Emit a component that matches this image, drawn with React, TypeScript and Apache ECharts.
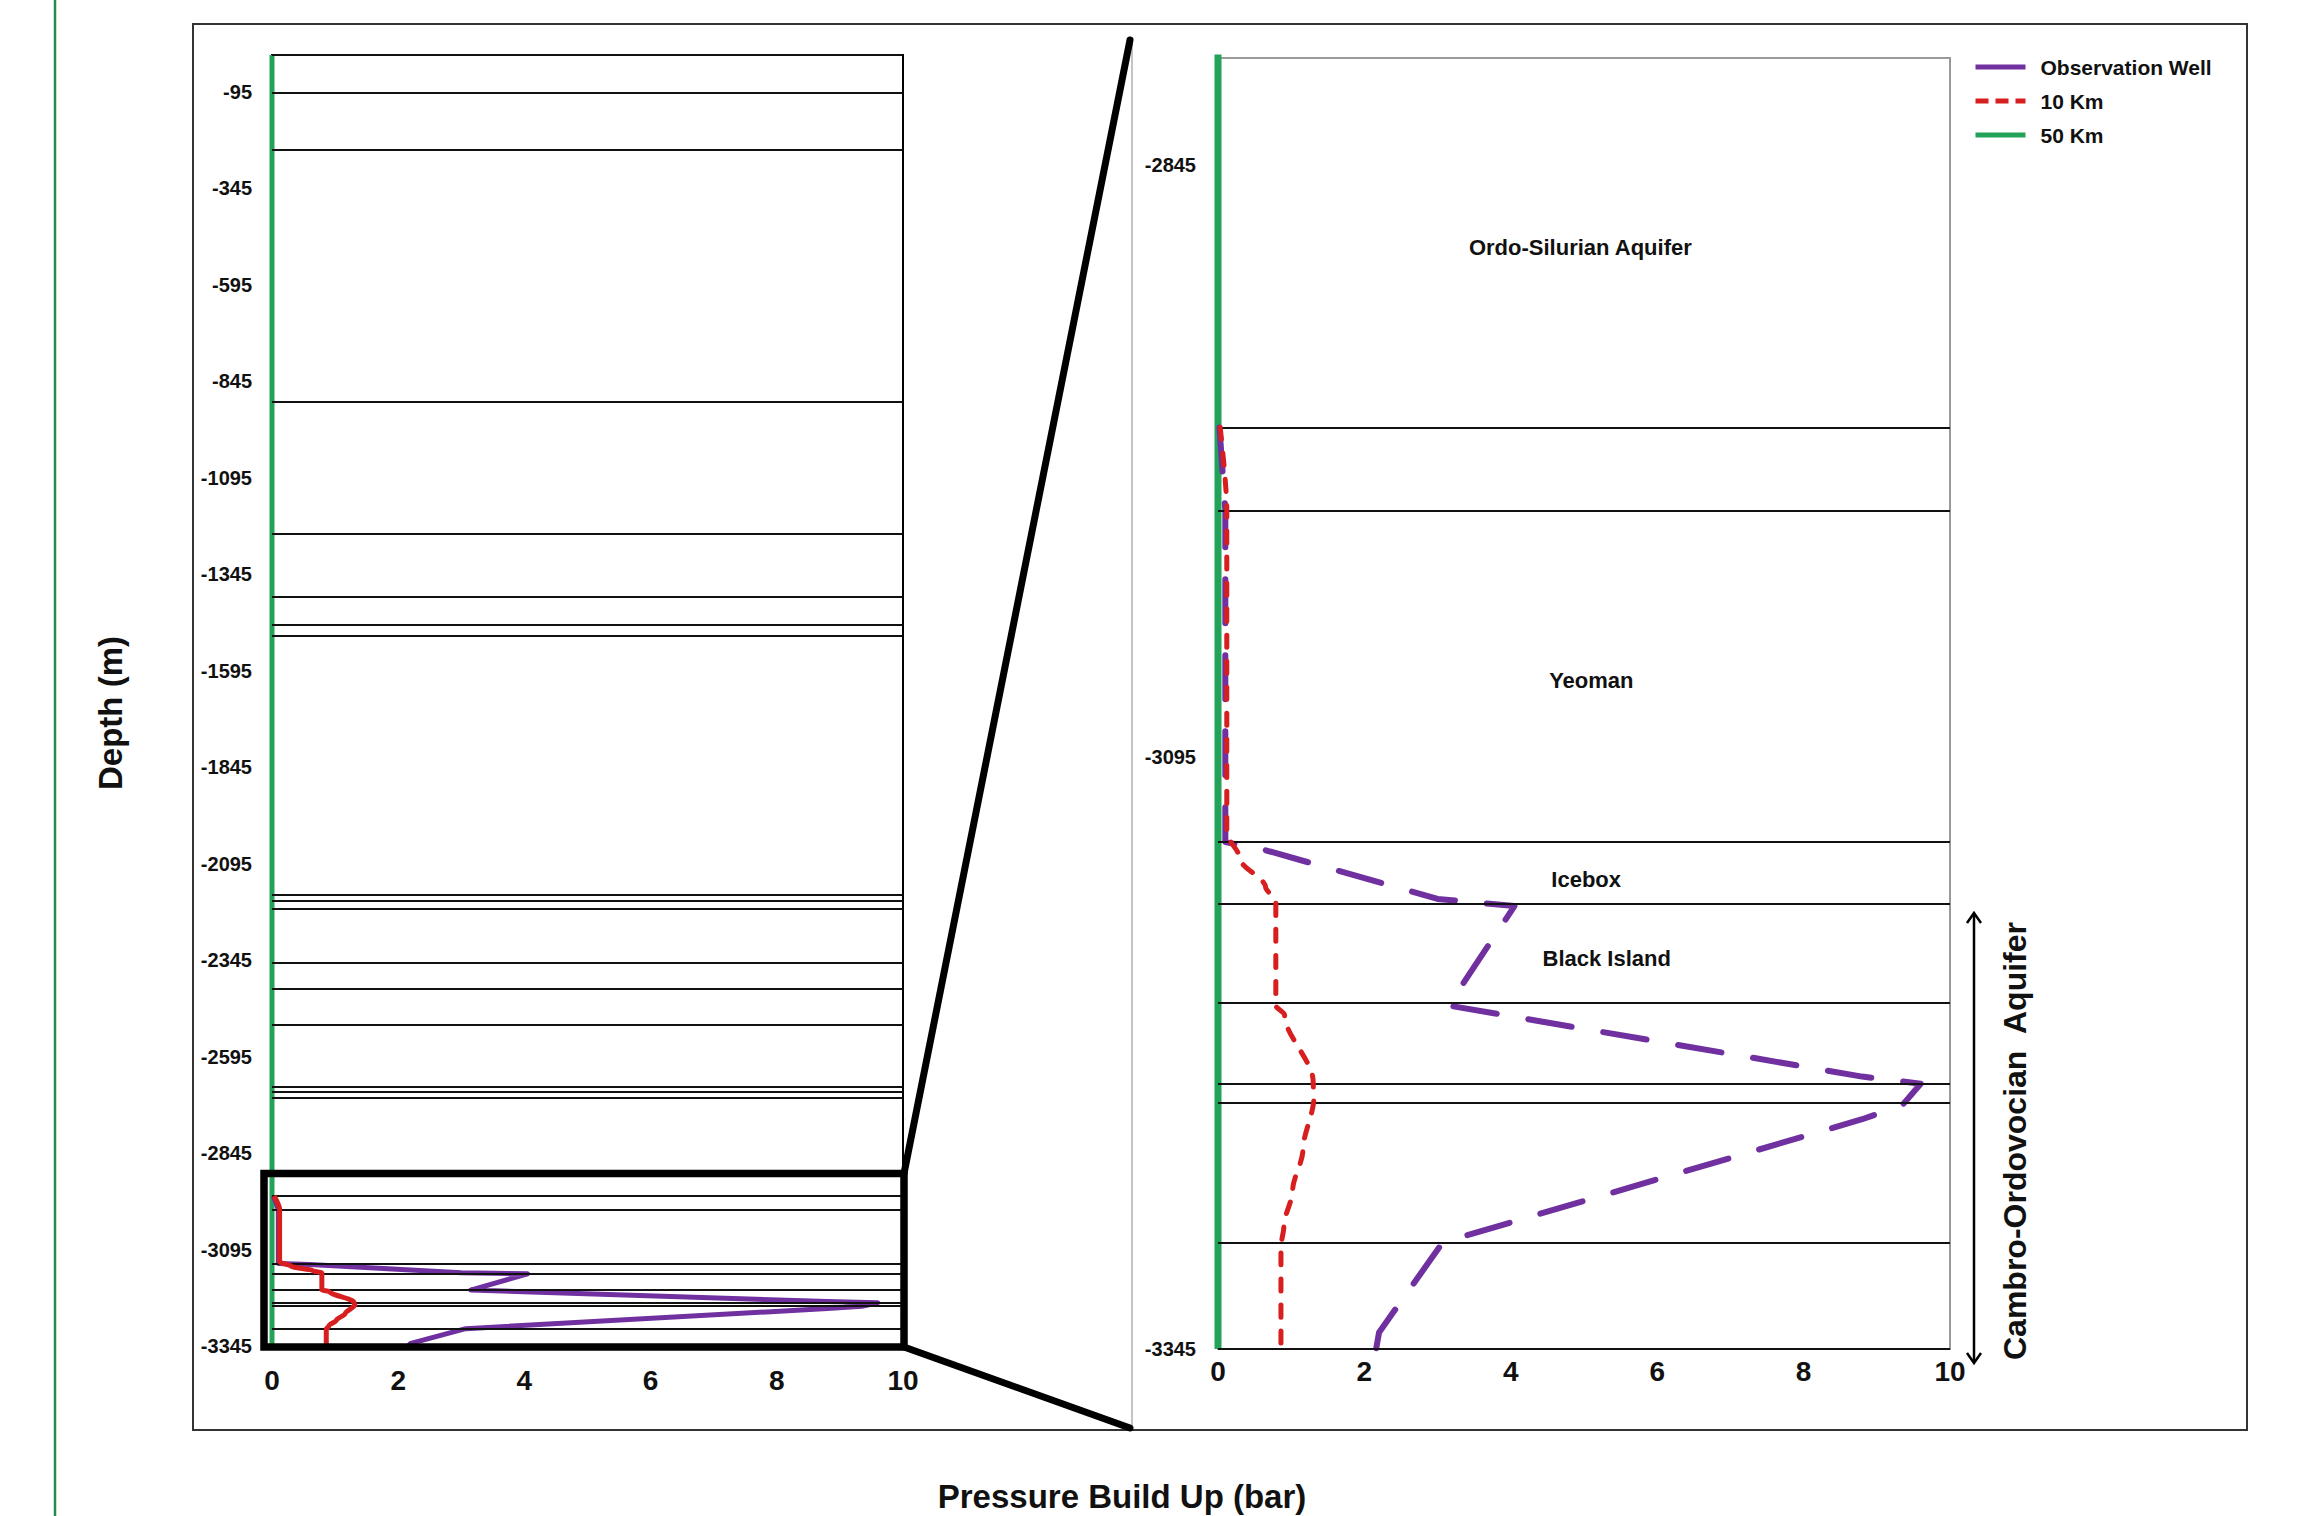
import React, { useEffect, useRef } from "react";
import * as echarts from "echarts";

// Formation boundary depths (m)
const boundaryDepths = [
  0, -97, -245, -898, -1240, -1403, -1476, -1505, -2176, -2191, -2213, -2353,
  -2419, -2513, -2672, -2685, -2701, -2956, -2991, -3131, -3157, -3199, -3233,
  -3241, -3300, -3345,
];

// Observation Well profile
const obsWellDepth = [-2956, -2991, -3131, -3134, -3155, -3158, -3200, -3230, -3233, -3242, -3248, -3300, -3338, -3345];
const obsWellBar = [0.02, 0.1, 0.1, 0.6, 3.0, 4.05, 3.15, 8.8, 9.6, 9.35, 8.8, 3.07, 2.2, 2.16];

// 10 Km profile
const km10Depth = [-2956, -2991, -3127, -3138, -3150, -3156, -3200, -3204, -3232, -3239, -3261, -3278, -3293, -3302, -3345];
const km10Bar = [0.03, 0.12, 0.12, 0.3, 0.65, 0.79, 0.79, 0.91, 1.3, 1.31, 1.16, 1.02, 0.9, 0.86, 0.86];

// 50 Km profile
const km50Depth = [0, -3345];
const km50Bar = [0, 0];

// Formation labels (zoomed panel)
const formationNames = ["Ordo-Silurian Aquifer", "Yeoman", "Icebox", "Black Island"];
const formationBar = [4.95, 5.1, 5.03, 5.31];
const formationDepth = [-2880, -3063, -3147, -3180];

const FONT = "'Liberation Sans', Arial, sans-serif";
const PURPLE = "#7030a0";
const RED = "#d81f1f";
const GREEN = "#23a35a";

const pairs = (xs: number[], ys: number[]) => xs.map((x, i) => [x, ys[i]]);

export default function App() {
  const ref = useRef<HTMLDivElement>(null);

  useEffect(() => {
    const el = ref.current!;
    const chart = echarts.init(el, null, { renderer: "svg" });

    const rightBoundaries = boundaryDepths.filter((d) => d <= -2800 && d >= -3345);

    const labelFmt = (v: number) => (v === 0 || v === -2800 ? "" : String(v));

    const xAxisBase = {
      type: "value",
      min: 0,
      max: 10,
      interval: 2,
      axisLine: { show: false },
      axisTick: { show: false },
      splitLine: { show: false },
    };
    const yAxisBase = {
      type: "value",
      interval: 250,
      axisLine: { show: false },
      axisTick: { show: false },
      splitLine: { show: false },
    };

    const hiddenSymbol = { color: "rgba(0,0,0,0)", borderColor: "rgba(0,0,0,0)", borderWidth: 0, opacity: 0 };

    const option: any = {
      animation: false,
      backgroundColor: "#ffffff",
      grid: [
        { left: 272, right: 1405, top: 55, bottom: 170, show: true, borderColor: "#000", borderWidth: 2, backgroundColor: "transparent" },
        { left: 1218, right: 358, top: 58, bottom: 167, show: true, borderColor: "#9a9a9a", borderWidth: 2, backgroundColor: "transparent" },
      ],
      xAxis: [
        { ...xAxisBase, gridIndex: 0, axisLabel: { fontSize: 28, fontWeight: "bold", color: "#111", margin: 20, fontFamily: FONT } },
        { ...xAxisBase, gridIndex: 1, axisLabel: { fontSize: 28, fontWeight: "bold", color: "#111", margin: 8, fontFamily: FONT } },
      ],
      yAxis: [
        { ...yAxisBase, gridIndex: 0, min: -3345, max: 0, axisLabel: { formatter: labelFmt, fontSize: 20, fontWeight: "bold", color: "#111", margin: 20, fontFamily: FONT } },
        { ...yAxisBase, gridIndex: 1, min: -3345, max: -2800, axisLabel: { formatter: labelFmt, fontSize: 20, fontWeight: "bold", color: "#111", margin: 22, fontFamily: FONT } },
      ],
      legend: {
        orient: "vertical",
        left: 1973,
        top: 56,
        padding: 0,
        itemWidth: 50,
        itemHeight: 14,
        itemGap: 12,
        textStyle: { fontSize: 21, fontWeight: "bold", color: "#111", fontFamily: FONT, lineHeight: 22, padding: [0, 0, 0, 10] },
        data: [
          { name: "Observation Well", itemStyle: hiddenSymbol, lineStyle: { color: PURPLE, width: 5, type: "solid" } },
          { name: "10 Km", itemStyle: hiddenSymbol, lineStyle: { color: RED, width: 5, type: [13, 7] } },
          { name: "50 Km", itemStyle: hiddenSymbol, lineStyle: { color: GREEN, width: 5, type: "solid" } },
        ],
      },
      series: [
        {
          name: "boundaries-left",
          type: "line",
          xAxisIndex: 0,
          yAxisIndex: 0,
          data: [],
          z: 1,
          silent: true,
          markLine: {
            silent: true,
            symbol: "none",
            label: { show: false },
            lineStyle: { color: "#111", width: 2, type: "solid" },
            data: boundaryDepths.map((d) => ({ yAxis: d })),
          },
        },
        {
          name: "boundaries-right",
          type: "line",
          xAxisIndex: 1,
          yAxisIndex: 1,
          data: [],
          z: 1,
          silent: true,
          markLine: {
            silent: true,
            symbol: "none",
            label: { show: false },
            lineStyle: { color: "#111", width: 2, type: "solid" },
            data: rightBoundaries.map((d) => ({ yAxis: d })),
          },
        },
        // left (overview) panel
        {
          name: "50 Km", type: "line", xAxisIndex: 0, yAxisIndex: 0, symbol: "none", z: 3,
          data: pairs(km50Bar, km50Depth),
          lineStyle: { color: GREEN, width: 5 }, itemStyle: { color: GREEN },
        },
        {
          name: "Observation Well", type: "line", xAxisIndex: 0, yAxisIndex: 0, symbol: "none", z: 4,
          data: pairs(obsWellBar, obsWellDepth),
          lineStyle: { color: PURPLE, width: 5, join: "round" }, itemStyle: { color: PURPLE },
        },
        {
          name: "10 Km", type: "line", xAxisIndex: 0, yAxisIndex: 0, symbol: "none", z: 5,
          smooth: 0.3, smoothMonotone: "y",
          data: pairs(km10Bar, km10Depth),
          lineStyle: { color: RED, width: 5 }, itemStyle: { color: RED },
        },
        // right (zoomed) panel
        {
          name: "50 Km", type: "line", xAxisIndex: 1, yAxisIndex: 1, symbol: "none", z: 3,
          data: pairs(km50Bar, km50Depth),
          lineStyle: { color: GREEN, width: 7 }, itemStyle: { color: GREEN },
        },
        {
          name: "Observation Well", type: "line", xAxisIndex: 1, yAxisIndex: 1, symbol: "none", z: 4,
          data: pairs(obsWellBar, obsWellDepth),
          lineStyle: { color: PURPLE, width: 6, type: [44, 32], cap: "round", join: "round" }, itemStyle: { color: PURPLE },
        },
        {
          name: "10 Km", type: "line", xAxisIndex: 1, yAxisIndex: 1, symbol: "none", z: 5,
          smooth: 0.3, smoothMonotone: "y",
          data: pairs(km10Bar, km10Depth),
          lineStyle: { color: RED, width: 5, type: [12, 14], cap: "round" }, itemStyle: { color: RED },
        },
        {
          name: "formations", type: "scatter", xAxisIndex: 1, yAxisIndex: 1, symbolSize: 0, z: 6, silent: true,
          itemStyle: { opacity: 1, color: "#111" },
          data: formationNames.map((n, i) => ({ name: n, value: [formationBar[i], formationDepth[i]] })),
          label: {
            show: true, position: "inside", formatter: "{b}", fontSize: 22, fontWeight: "bold",
            color: "#111", opacity: 1, textBorderWidth: 0, fontFamily: FONT,
          },
        },
      ],
      graphic: [
        // page-edge green rule
        { type: "line", z: 0, shape: { x1: 55, y1: 0, x2: 55, y2: 1516 }, style: { stroke: "#228b50", lineWidth: 2.5 } },
        // outer frame
        { type: "rect", z: 0, shape: { x: 193, y: 24, width: 2054, height: 1406 }, style: { fill: "none", stroke: "#333", lineWidth: 2 } },
        // zoomed chart area edge
        { type: "line", z: 0, shape: { x1: 1132, y1: 40, x2: 1132, y2: 1430 }, style: { stroke: "#c4c4c4", lineWidth: 2 } },
        // zoom box
        { type: "rect", z: 100, shape: { x: 264, y: 1173.5, width: 640, height: 173.5 }, style: { fill: "none", stroke: "#000", lineWidth: 7.5 } },
        // connectors
        { type: "line", z: 100, shape: { x1: 904, y1: 1173.5, x2: 1130, y2: 40 }, style: { stroke: "#000", lineWidth: 7, lineCap: "round" } },
        { type: "line", z: 100, shape: { x1: 904, y1: 1347, x2: 1130, y2: 1428 }, style: { stroke: "#000", lineWidth: 7, lineCap: "round" } },
        // double-headed arrow
        { type: "line", z: 10, shape: { x1: 1974, y1: 914, x2: 1974, y2: 1362 }, style: { stroke: "#000", lineWidth: 2.5 } },
        { type: "polyline", z: 10, shape: { points: [[1967, 923], [1974, 913], [1981, 923]] }, style: { fill: "none", stroke: "#000", lineWidth: 2.5 } },
        { type: "polyline", z: 10, shape: { points: [[1967, 1353], [1974, 1363], [1981, 1353]] }, style: { fill: "none", stroke: "#000", lineWidth: 2.5 } },
        // texts
        {
          type: "text", z: 10, x: 2015, y: 1141, rotation: Math.PI / 2,
          style: { text: "Cambro-Ordovocian  Aquifer", align: "center", verticalAlign: "middle", fontSize: 32, fontWeight: "bold", fill: "#111", fontFamily: FONT },
        },
        {
          type: "text", z: 10, x: 110, y: 713, rotation: Math.PI / 2,
          style: { text: "Depth (m)", align: "center", verticalAlign: "middle", fontSize: 33, fontWeight: "bold", fill: "#111", fontFamily: FONT },
        },
        {
          type: "text", z: 10, x: 1122, y: 1496,
          style: { text: "Pressure Build Up (bar)", align: "center", verticalAlign: "middle", fontSize: 33, fontWeight: "bold", fill: "#111", fontFamily: FONT },
        },
      ],
    };

    chart.setOption(option);
    return () => chart.dispose();
  }, []);

  return (
    <div
      ref={ref}
      style={{ position: "fixed", left: 0, top: 0, width: 2308, height: 1516, background: "#fff" }}
    />
  );
}
